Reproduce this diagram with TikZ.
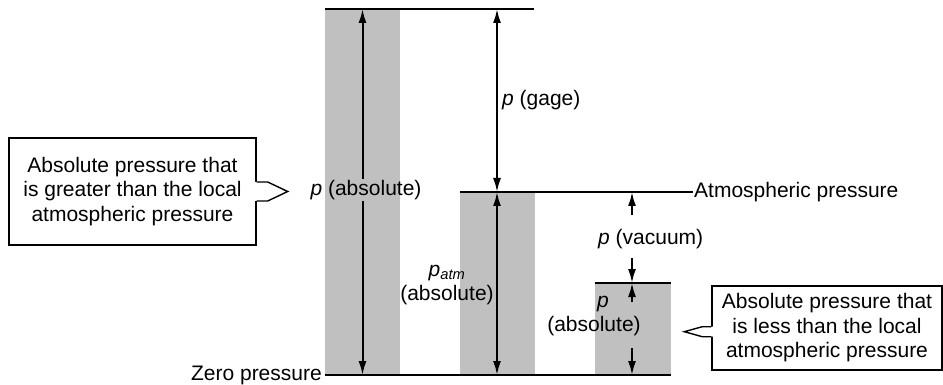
\documentclass[tikz,border=0pt]{standalone}
\usepackage{fontspec}
\setmainfont{Liberation Sans}
\usetikzlibrary{arrows.meta}
\definecolor{barg}{RGB}{192,192,192}
\begin{document}
\begin{tikzpicture}[x=1pt,y=-1pt,
  lvl/.style={draw=black, line width=1.4pt},
  dim/.style={line width=2pt, -{Latex[length=14pt,width=8pt]}},
  dimb/.style={line width=2pt, {Latex[length=14pt,width=8pt]}-{Latex[length=14pt,width=8pt]}},
  lab/.style={font=\fontsize{21}{24.5}\selectfont, inner sep=1pt, align=center},
  co/.style={draw=black, line width=1.4pt},
  cobox/.style={co, fill=white, lab}
]
\useasboundingbox (0,0) rectangle (943,385);
% bars
\fill[barg] (325,9) rectangle (400,375);
\fill[barg] (460,192) rectangle (535,375);
\fill[barg] (595,283) rectangle (671,375);
% level lines
\coordinate (topL) at (325,9);
\coordinate (topR) at (534,9);
\draw[lvl] (topL) -- (topR);
\node[lab, anchor=west] (atm) at (693,192) {Atmospheric pressure};
\coordinate (atmL) at (460,192);
\draw[lvl] (atmL) -- (atm.west);
\coordinate (b3L) at (595,283);
\coordinate (b3R) at (671,283);
\draw[lvl] (b3L) -- (b3R);
\node[lab, anchor=east, inner sep=3pt] (zero) at (325,375) {Zero pressure};
\coordinate (zeroR) at (671,375);
\draw[lvl] (zero.east) -- (zeroR);
% bar 1 arrow
\node[lab] (pabs1) at (366,190) {\textit{p} (absolute)};
\coordinate (a1t) at (362.5,9);
\coordinate (a1b) at (362.5,375);
\draw[dim] (pabs1.north -| a1t) -- (a1t);
\draw[dim] (pabs1.south -| a1b) -- (a1b);
% gage
\coordinate (gt) at (497,9);
\coordinate (gb) at (497,192);
\draw[dimb] (gt) -- (gb);
\node[lab, anchor=west] (gage) at (501,100) {\textit{p} (gage)};
% bar 2
\coordinate (a2b) at (497,375);
\draw[dimb] (gb) -- (a2b);
\node[lab] (patm) at (447,285) {\textit{p}\textsubscript{\textit{atm}}\\(absolute)};
% vacuum
\node[lab, anchor=west] (vac) at (597,239) {\textit{p} (vacuum)};
\coordinate (vt) at (632,192);
\coordinate (v1) at (632,215);
\coordinate (v2) at (632,258);
\coordinate (vb) at (632,283);
\draw[dim] (v1) -- (vt);
\draw[dim] (v2) -- (vb);
% bar 3
\node[lab] (pabs3) at (594,316) {\hspace*{18pt}\textit{p}\\(absolute)};
\coordinate (b3a) at (632,302);
\coordinate (b3b) at (632,348);
\coordinate (b3z) at (632,375);
\draw[dim] (b3a) -- (vb);
\draw[dim] (b3b) -- (b3z);
% callout 1
\node[cobox, minimum width=247, minimum height=107] (c1) at (132.5,191.5)
  {Absolute pressure that\\is greater than the local\\atmospheric pressure};
\fill[white] ([shift={(-1.5pt,9.5pt)}]c1.east) -- ++(12.5,0) -- ++(20,9.5) -- ++(-20,9.5) -- ++(-12.5,0) -- cycle;
\draw[co] ([yshift=9.5pt]c1.east) -- ++(11,0) -- ++(20,9.5) -- ++(-20,9.5) -- ++(-11,0);
% callout 2
\node[cobox, minimum width=230, minimum height=84] (c2) at (827,328)
  {Absolute pressure that\\is less than the local\\atmospheric pressure};
\fill[white] ([shift={(1.5pt,1.3pt)}]c2.west) -- ++(-10.5,0) -- ++(-18,5) -- ++(18,5) -- ++(10.5,0) -- cycle;
\draw[co] ([yshift=1.3pt]c2.west) -- ++(-9,0) -- ++(-18,5) -- ++(18,5) -- ++(9,0);
\end{tikzpicture}
\end{document}
